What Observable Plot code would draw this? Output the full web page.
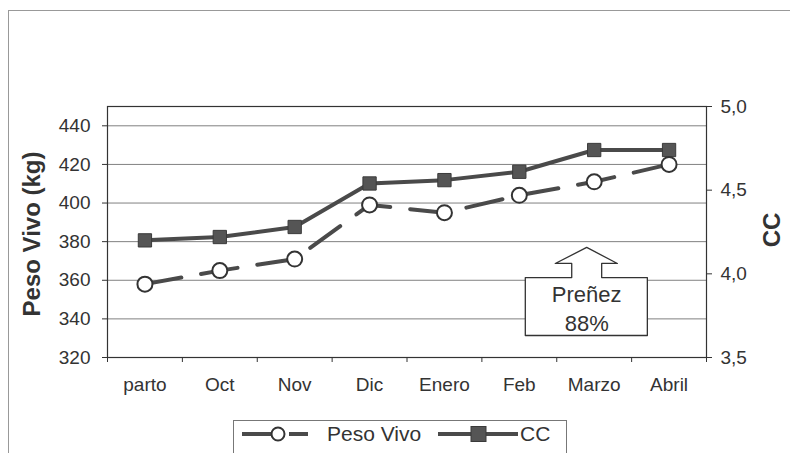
<!DOCTYPE html>
<html>
<head>
<meta charset="utf-8">
<script src="https://cdn.jsdelivr.net/npm/d3@7"></script>
<script src="https://cdn.jsdelivr.net/npm/@observablehq/plot@0.6"></script>
<style>
  html, body { margin: 0; padding: 0; background: #fff; }
  #wrap { position: relative; width: 790px; height: 453px; overflow: hidden; font-family: "Liberation Sans", Arial, sans-serif; }
  #outer { position: absolute; left: 8px; top: 10px; width: 800px; height: 460px; border-left: 1px solid #999; border-top: 1px solid #999; }
  #legend { position: absolute; left: 233px; top: 420px; width: 332px; height: 40px; border: 1px solid #777; background: #fff; color: #333; font-size: 21px; }
  #legend svg { position: absolute; left: 0; top: 0; }
</style>
</head>
<body>
<div id="wrap">
  <div id="outer"></div>
  <div id="chart"></div>
  <div id="legend"></div>
</div>
<script>
// ---- data ----
const categories = ["parto", "Oct", "Nov", "Dic", "Enero", "Feb", "Marzo", "Abril"];
const pesoVivo = [358, 365, 371, 399, 395, 404, 411, 420];   // kg (left axis)
const cc = [4.20, 4.22, 4.28, 4.54, 4.56, 4.61, 4.74, 4.74];  // condición corporal (right axis)
const kgTicks = [320, 340, 360, 380, 400, 420, 440];
const ccTicks = [3.5, 4.0, 4.5, 5.0];
const kgDomain = [320, 450];
const ccDomain = [3.5, 5.0];
const seriesNames = ["Peso Vivo", "CC"];
const annotationLines = ["Preñez", "88%"];
// callout arrow outline in data space (category index, kg)
const calloutShape = [
  [5.90, 377], [6.31, 368.7], [6.10, 368.7], [6.10, 361.4], [6.71, 361.4],
  [6.71, 331.4], [5.08, 331.4], [5.08, 361.4], [5.70, 361.4], [5.70, 368.7],
  [5.48, 368.7], [5.90, 377]
];
const annotationPos = [{x: 5.90, y: 352.2, t: annotationLines[0]}, {x: 5.90, y: 337.6, t: annotationLines[1]}];

// ---- mapping of CC onto the kg scale (dual axis) ----
const toKg = c => kgDomain[0] + (c - ccDomain[0]) / (ccDomain[1] - ccDomain[0]) * (kgDomain[1] - kgDomain[0]);
const fromKg = k => ccDomain[0] + (k - kgDomain[0]) / (kgDomain[1] - kgDomain[0]) * (ccDomain[1] - ccDomain[0]);

const rows = categories.map((c, i) => ({i, cat: c, peso: pesoVivo[i], cc: cc[i], ccKg: toKg(cc[i])}));
const boundaries = d3.range(categories.length + 1).map(i => i - 0.5);

const ink = "#4a4a4a";

const chart = Plot.plot({
  width: 790,
  height: 453,
  marginLeft: 107,
  marginRight: 84,
  marginTop: 106,
  marginBottom: 96,
  style: {fontFamily: "Liberation Sans, Arial, sans-serif", fontSize: "19px", color: "#333", background: "transparent"},
  x: {type: "linear", domain: [-0.5, categories.length - 0.5]},
  y: {domain: kgDomain},
  marks: [
    Plot.gridY(kgTicks.filter(v => v > kgDomain[0]), {stroke: "#555", strokeOpacity: 0.75, strokeWidth: 1}),
    Plot.frame({stroke: "#333", strokeWidth: 1.2}),
    Plot.axisY({anchor: "left", ticks: kgTicks, tickSize: 5, tickPadding: 12, label: null}),
    Plot.axisY({anchor: "right", ticks: ccTicks.map(toKg), tickFormat: v => fromKg(v).toFixed(1).replace(".", ","), tickSize: 5, tickPadding: 9, label: null}),
    Plot.axisX({ticks: rows.map(d => d.i), tickFormat: i => categories[i], tickSize: 0, tickPadding: 20, label: null}),
    Plot.axisX({ticks: boundaries, tickFormat: () => "", tickSize: 5, label: null}),
    Plot.text(["Peso Vivo (kg)"], {text: d => d, frameAnchor: "left", textAnchor: "middle", dx: -75, dy: 2, rotate: -90, fontSize: 24, fontWeight: "bold", fill: "#333"}),
    Plot.text(["CC"], {text: d => d, frameAnchor: "right", textAnchor: "middle", dx: 66, dy: -2, rotate: -90, fontSize: 24, fontWeight: "bold", fill: "#333"}),
    // callout
    Plot.line(calloutShape, {x: d => d[0], y: d => d[1], fill: "white", stroke: "#333", strokeWidth: 1.3, curve: "linear"}),
    Plot.text(annotationPos, {x: "x", y: "y", text: "t", fontSize: 22, fill: "#333"}),
    // CC series
    Plot.line(rows, {x: "i", y: "ccKg", stroke: ink, strokeWidth: 4}),
    Plot.dot(rows, {x: "i", y: "ccKg", symbol: "square", r: 7.5, fill: "#555", stroke: "#3a3a3a", strokeWidth: 1}),
    // Peso Vivo series
    Plot.line(rows, {x: "i", y: "peso", stroke: ink, strokeWidth: 4, strokeDasharray: "37,20"}),
    Plot.dot(rows, {x: "i", y: "peso", r: 7.5, fill: "white", stroke: "#333", strokeWidth: 2})
  ]
});
document.getElementById("chart").append(chart);

// ---- legend ----
const lg = d3.select("#legend").append("svg").attr("width", 332).attr("height", 40);
const ly = 13;
lg.append("line").attr("x1", 8).attr("x2", 37).attr("y1", ly).attr("y2", ly).attr("stroke", ink).attr("stroke-width", 4);
lg.append("line").attr("x1", 55).attr("x2", 74).attr("y1", ly).attr("y2", ly).attr("stroke", ink).attr("stroke-width", 4);
lg.append("circle").attr("cx", 44).attr("cy", ly).attr("r", 6.5).attr("fill", "white").attr("stroke", "#333").attr("stroke-width", 2);
lg.append("text").attr("x", 93).attr("y", ly + 7).attr("font-size", 21).attr("fill", "#333").attr("font-family", "Liberation Sans, Arial, sans-serif").text(seriesNames[0]);
lg.append("line").attr("x1", 204).attr("x2", 284).attr("y1", ly).attr("y2", ly).attr("stroke", ink).attr("stroke-width", 4);
lg.append("rect").attr("x", 237).attr("y", ly - 7.5).attr("width", 15).attr("height", 15).attr("fill", "#555").attr("stroke", "#3a3a3a");
lg.append("text").attr("x", 286).attr("y", ly + 7).attr("font-size", 21).attr("fill", "#333").attr("font-family", "Liberation Sans, Arial, sans-serif").text(seriesNames[1]);
</script>
</body>
</html>
